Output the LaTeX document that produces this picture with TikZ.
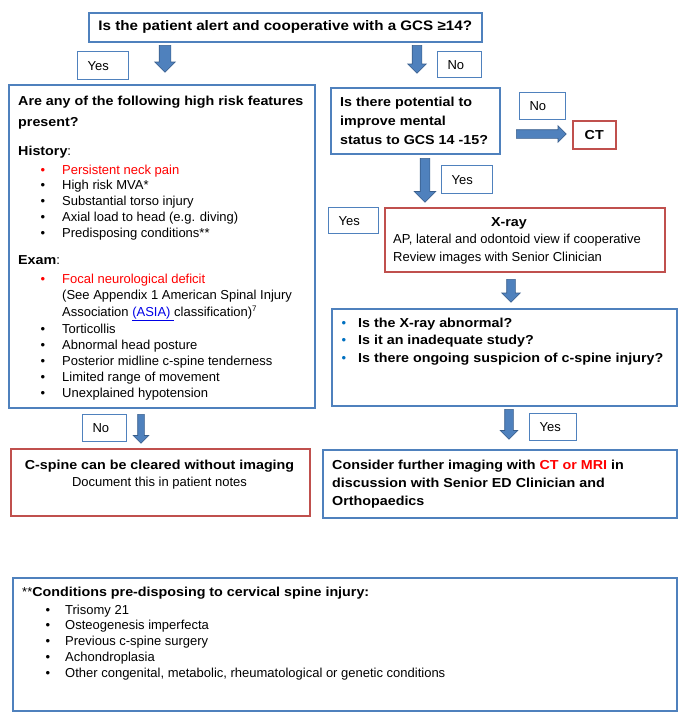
\documentclass[tikz,border=0pt]{standalone}
\usepackage{fontspec}
\setmainfont{Liberation Sans}[BoldFeatures={FakeStretch=1.1}]
\usetikzlibrary{shapes.arrows}
\definecolor{boxblue}{RGB}{79,129,189}
\definecolor{boxred}{RGB}{192,80,77}
\definecolor{arrowline}{RGB}{56,93,138}
\definecolor{linkblue}{RGB}{0,0,230}
\definecolor{dotblue}{RGB}{0,112,192}
\definecolor{alertred}{RGB}{255,0,0}
\newcommand{\bodyfont}{\fontsize{13}{16}\selectfont}

\begin{document}
\begin{tikzpicture}[x=1pt, y=-1pt,
    bluebox/.style={draw=boxblue, line width=1.5pt, anchor=north west, inner sep=0pt},
    redbox/.style={draw=boxred, line width=1.5pt, anchor=north west, inner sep=0pt},
    tag/.style={draw=boxblue, line width=1.2pt, anchor=north west, inner xsep=10pt, inner ysep=0pt,
        align=left, font=\bodyfont},
    txt/.style={anchor=base west, inner sep=0pt, font=\bodyfont},
    bold/.style={anchor=base west, inner sep=0pt, font=\bodyfont\bfseries},
    dot/.style={anchor=base, inner sep=0pt, font=\bodyfont},
    blockarrow/.style={single arrow, draw=arrowline, fill=boxblue, line width=0.6pt}]
    \useasboundingbox (0,0) rectangle (683,720);

    % Question at the top
    \node[bluebox, minimum width=393pt, minimum height=29pt, font=\fontsize{13.8}{16}\selectfont\bfseries] (gcs) at (88,12)
        {Is the patient alert and cooperative with a GCS ≥14?};
    \node[tag, text width=31pt, minimum height=28pt] (yesA) at (77,51) {Yes};
    \node[tag, text width=24pt, minimum height=26pt] (noA) at (437,51) {No};
    \node[blockarrow, shape border rotate=270, anchor=north, minimum height=27pt, inner sep=5.5pt,
        single arrow head extend=4.5pt] (arA) at (165,45) {};
    \node[blockarrow, shape border rotate=270, anchor=north, minimum height=28pt, inner sep=4.5pt,
        single arrow head extend=4.5pt] (arB) at (417,45) {};

    % High risk features
    \node[bluebox, minimum width=306pt, minimum height=323pt] (risk) at (8,84) {};
    \node[bold] (riskq) at (18,105) {Are any of the following high risk features};
    \node[bold] (riskq2) at (18,126) {present?};
    \node[txt] (hist) at (18,155) {\textbf{History}:};
    \node[dot, text=alertred] (histdot0) at (43,174) {•};
    \node[txt, text=alertred] (hist0) at (62,174) {Persistent neck pain};
    \foreach \t [count=\i] in {High risk MVA*, Substantial torso injury,
        Axial load to head (e.g. diving), Predisposing conditions**} {
        \node[dot] (histdot\i) at (43,{174+15.8*\i}) {•};
        \node[txt] (hist\i) at (62,{174+15.8*\i}) {\t};
    }
    \node[txt] (exam) at (18,264) {\textbf{Exam}:};
    \node[dot, text=alertred] (examdot0) at (43,283) {•};
    \node[txt, text=alertred] (exam0) at (62,283) {Focal neurological deficit};
    \node[txt] (asia1) at (62,299) {(See Appendix 1 American Spinal Injury};
    \node[txt] (asia2) at (62,316)
        {Association \textcolor{linkblue}{\underline{(ASIA) }}classification)\textsuperscript{\fontsize{8}{8}\selectfont 7}};
    \foreach \t [count=\i from 0] in {Torticollis, Abnormal head posture,
        Posterior midline c-spine tenderness, Limited range of movement, Unexplained hypotension} {
        \node[dot] (examdot\i) at (43,{333.5+15.9*\i}) {•};
        \node[txt] (examitem\i) at (62,{333.5+15.9*\i}) {\t};
    }

    % Mental status
    \node[bluebox, minimum width=169pt, minimum height=66pt] (pot) at (330,87) {};
    \foreach \t [count=\i from 0] in {Is there potential to, improve mental, status to GCS 14 -15?}
        \node[bold] (pot\i) at (340,{106+19*\i}) {\t};
    \node[tag, text width=26pt, minimum height=27pt] (noB) at (519,92) {No};
    \node[blockarrow, anchor=west, minimum height=50pt, inner sep=4pt,
        single arrow head extend=4pt] (arC) at (516,134) {};
    \node[redbox, minimum width=43pt, minimum height=28pt, font=\bodyfont\bfseries] (ct) at (572,120) {CT};
    \node[blockarrow, shape border rotate=270, anchor=north, minimum height=44pt, inner sep=4.5pt,
        single arrow head extend=6pt] (arD) at (425,158) {};
    \node[tag, text width=31pt, minimum height=28pt] (yesB) at (441,165) {Yes};
    \node[tag, text width=30pt, minimum height=26pt] (yesC) at (328,207) {Yes};

    % X-ray
    \node[redbox, minimum width=280pt, minimum height=64pt] (xray) at (384,207) {};
    \node[bold, anchor=base] (xrayt) at (509,226) {X-ray};
    \node[txt] (xray1) at (393,243) {AP, lateral and odontoid view if cooperative};
    \node[txt] (xray2) at (393,261) {Review images with Senior Clinician};
    \node[blockarrow, shape border rotate=270, anchor=north, minimum height=23pt, inner sep=4pt,
        single arrow head extend=5pt] (arE) at (511,279) {};

    % Questions after X-ray
    \node[bluebox, minimum width=345pt, minimum height=97pt] (quest) at (331,308) {};
    \foreach \t [count=\i from 0] in {Is the X-ray abnormal?, Is it an inadequate study?,
        Is there ongoing suspicion of c-spine injury?} {
        \node[dot, text=dotblue] (questdot\i) at (344,{327+17.5*\i}) {•};
        \node[bold] (quest\i) at (358,{327+17.5*\i}) {\t};
    }
    \node[blockarrow, shape border rotate=270, anchor=north, minimum height=30pt, inner sep=4pt,
        single arrow head extend=4.5pt] (arF) at (509,409) {};
    \node[tag, text width=27pt, minimum height=27pt] (yesD) at (529,413) {Yes};

    % Outcomes
    \node[tag, text width=24pt, minimum height=27pt] (noC) at (82,414) {No};
    \node[blockarrow, shape border rotate=270, anchor=north, minimum height=29pt, inner sep=3pt,
        single arrow head extend=4.5pt] (arG) at (141,414) {};
    \node[redbox, minimum width=299pt, minimum height=67pt] (clear) at (10,448) {};
    \node[bold, anchor=base] (clear1) at (159.5,469) {C-spine can be cleared without imaging};
    \node[txt, anchor=base] (clear2) at (159.5,486) {Document this in patient notes};
    \node[bluebox, minimum width=354pt, minimum height=68pt] (further) at (322,449) {};
    \node[bold] (further0) at (332,469) {Consider further imaging with \textcolor{alertred}{CT or MRI} in};
    \node[bold] (further1) at (332,487) {discussion with Senior ED Clinician and};
    \node[bold] (further2) at (332,505) {Orthopaedics};

    % Footnote box
    \node[bluebox, minimum width=664pt, minimum height=133pt] (cond) at (12,577) {};
    \node[txt] (condt) at (22,596) {**\textbf{Conditions pre-disposing to cervical spine injury:}};
    \foreach \t [count=\i from 0] in {Trisomy 21, Osteogenesis imperfecta, Previous c-spine surgery,
        Achondroplasia, {Other congenital, metabolic, rheumatological or genetic conditions}} {
        \node[dot] (conddot\i) at (48,{614+15.8*\i}) {•};
        \node[txt] (cond\i) at (65,{614+15.8*\i}) {\t};
    }
\end{tikzpicture}
\end{document}
